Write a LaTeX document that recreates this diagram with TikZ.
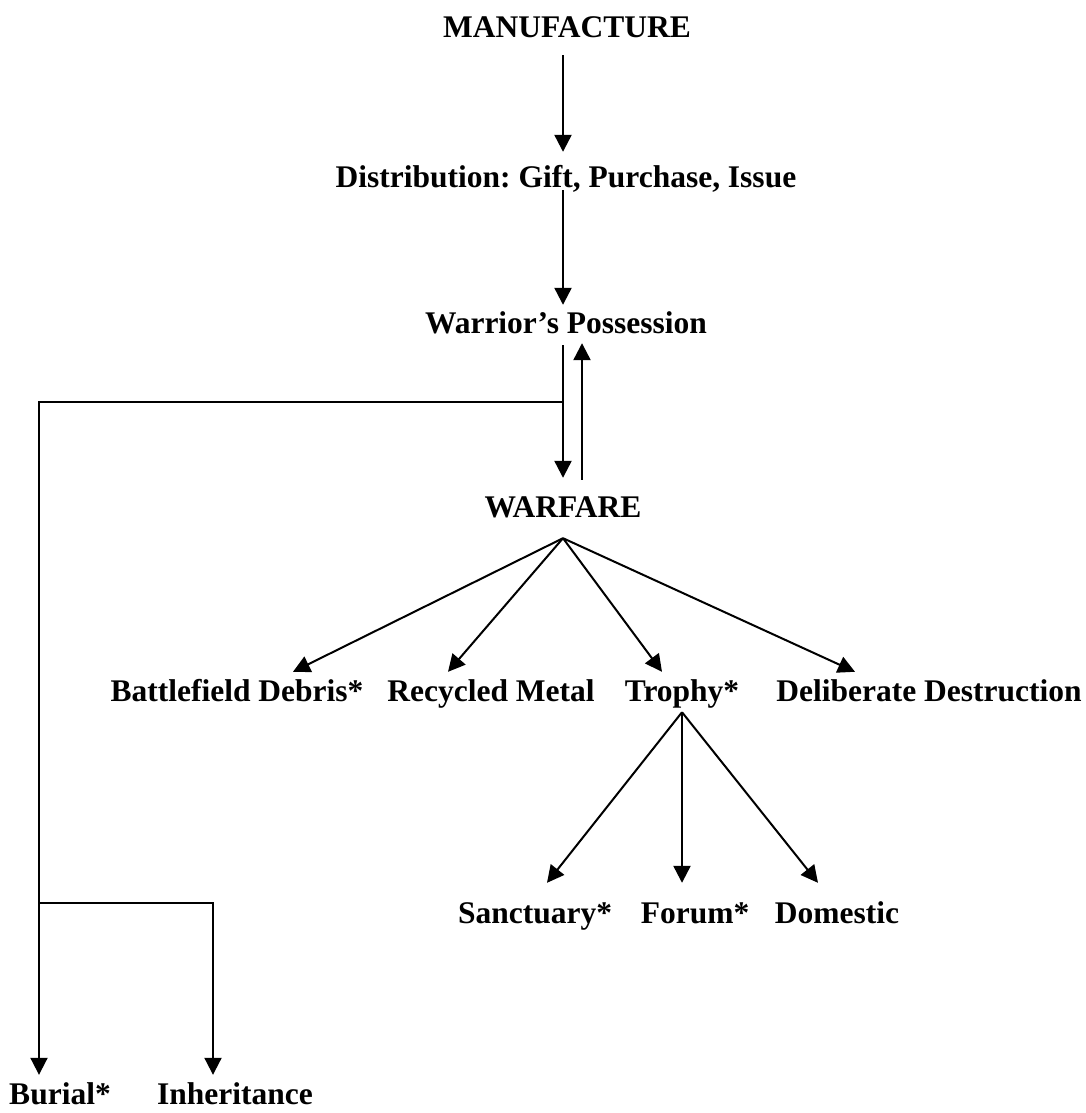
\documentclass[tikz,border=0pt]{standalone}
\usepackage{fontspec}
\setmainfont{Liberation Serif}
\usetikzlibrary{arrows.meta}
\frenchspacing
\begin{document}
\begin{tikzpicture}[x=1pt,y=1pt,
  lbl/.style={anchor=base,inner sep=0pt,text height=21pt,text depth=7pt,
    font=\fontsize{31.5}{37}\selectfont\bfseries},
  arr/.style={line width=2.3pt,-{Triangle[width=17pt,length=17pt]}},
  darr/.style={line width=2pt,-{Triangle[width=17pt,length=17pt]}}]
\useasboundingbox (0,0) rectangle (1086,-1113);
% nodes
\node[lbl] (man) at (567,-38) {MANUFACTURE};
\node[lbl] (dist) at (566,-187) {Distribution: Gift, Purchase, Issue};
\node[lbl] (war) at (566,-333) {Warrior’s Possession};
\node[lbl] (wf) at (563,-517) {WARFARE};
\node[lbl] (deb) at (237,-701) {Battlefield Debris*};
\node[lbl] (rec) at (491,-701) {Recycled Metal};
\node[lbl] (tro) at (682,-701) {Trophy*};
\node[lbl] (del) at (929,-701) {Deliberate Destruction};
\node[lbl] (san) at (535,-923) {Sanctuary*};
\node[lbl] (for) at (695,-923) {Forum*};
\node[lbl] (dom) at (837,-923) {Domestic};
\node[lbl] (bur) at (60,-1104) {Burial*};
\node[lbl] (inh) at (235,-1104) {Inheritance};
% helper coordinates
\coordinate (j1) at (563,-402);
\coordinate (c2) at (39,-903);
\coordinate (apex) at ([yshift=-14pt]wf.south);
\coordinate (tapex) at ([yshift=-4pt]tro.south);
% vertical chain
\draw[arr] ([xshift=-4pt,yshift=-10pt]man.south) -- ([xshift=-3pt,yshift=14pt]dist.north);
\draw[arr] ([xshift=-3pt,yshift=4pt]dist.south) -- ([xshift=-3pt,yshift=7pt]war.north);
\draw[arr] ([xshift=-3pt,yshift=-5pt]war.south) -- ([yshift=18pt]wf.north);
\draw[arr] ([xshift=19pt,yshift=16pt]wf.north) -- ([xshift=16pt,yshift=-3pt]war.south);
% left branch
\draw[darr] (j1) -| ([xshift=-21pt,yshift=8pt]bur.north);
\draw[darr] (c2) -| ([xshift=-22pt,yshift=8pt]inh.north);
% warfare fan
\draw[darr] (apex) -- ([xshift=56pt,yshift=8pt]deb.north);
\draw[darr] (apex) -- ([xshift=-43pt,yshift=8pt]rec.north);
\draw[darr] (apex) -- ([xshift=-20pt,yshift=8pt]tro.north);
\draw[darr] (apex) -- ([xshift=-74pt,yshift=8pt]del.north);
% trophy fan
\draw[darr] (tapex) -- ([xshift=12pt,yshift=19pt]san.north);
\draw[arr] (tapex) -- ([xshift=-13pt,yshift=19pt]for.north);
\draw[darr] (tapex) -- ([xshift=-19pt,yshift=19pt]dom.north);
\end{tikzpicture}
\end{document}
